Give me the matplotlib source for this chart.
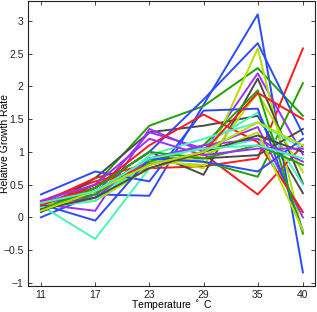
import matplotlib
matplotlib.use("Agg")
import matplotlib.pyplot as plt

plt.rcParams['font.family'] = ['Liberation Sans', 'DejaVu Sans']

temps = [11, 17, 23, 29, 35, 40]
y_ticks = [-1, -0.5, 0, 0.5, 1, 1.5, 2, 2.5, 3]
y_tick_labels = ['\u22121', '\u22120.5', '0', '0.5', '1', '1.5', '2', '2.5', '3']

blue = '#2a4bff'
red = '#ff1a1a'
green = '#22a000'
gray = '#4a4a4a'
purple = '#9b30ff'
ygreen = '#b4e000'
aqua = '#48f5b8'

# relative growth rate per strain
blue_1 = [0.00, 0.35, 0.33, 1.72, 3.10, -0.84]
blue_2 = [0.22, 0.45, 1.00, 1.80, 2.66, 1.27]
blue_3 = [0.35, 0.70, 0.55, 1.63, 1.66, -0.20]
blue_4 = [0.20, -0.05, 0.90, 0.85, 0.70, 1.20]
red_1 = [0.25, 0.55, 0.75, 0.78, 0.90, 2.58]
red_2 = [0.22, 0.60, 0.82, 0.97, 0.35, 1.10]
red_3 = [0.20, 0.45, 1.10, 1.57, 1.15, 0.08]
red_4 = [0.18, 0.50, 0.80, 1.00, 1.90, 1.50]
green_1 = [0.15, 0.50, 1.40, 1.70, 2.28, 1.55]
green_2 = [0.20, 0.40, 0.90, 0.85, 0.62, 2.05]
green_3 = [0.10, 0.35, 0.85, 1.10, 1.94, -0.25]
green_4 = [0.12, 0.45, 1.00, 0.90, 1.10, 0.80]
gray_1 = [0.10, 0.60, 1.30, 1.40, 1.55, 0.37]
gray_2 = [0.08, 0.45, 1.00, 0.65, 2.12, 0.52]
gray_3 = [0.15, 0.40, 0.90, 0.90, 0.95, 1.35]
gray_4 = [0.12, 0.30, 0.75, 1.00, 1.25, 1.00]
purple_1 = [0.20, 0.10, 1.35, 1.00, 2.20, 0.96]
purple_2 = [0.22, 0.35, 1.30, 1.05, 1.38, 0.00]
purple_3 = [0.18, 0.30, 0.90, 1.10, 1.20, 0.85]
purple_4 = [0.25, 0.50, 1.20, 0.95, 1.05, 1.05]
ygreen_1 = [0.12, 0.35, 0.90, 0.75, 2.58, -0.24]
ygreen_2 = [0.15, 0.30, 0.85, 0.80, 1.90, 0.69]
ygreen_3 = [0.20, 0.25, 0.75, 0.95, 1.30, -0.20]
ygreen_4 = [0.10, 0.40, 0.80, 1.00, 1.45, 1.10]
aqua_1 = [0.18, -0.33, 0.75, 1.00, 1.20, 0.08]
aqua_2 = [0.20, 0.30, 0.80, 1.10, 1.60, 0.50]
aqua_3 = [0.15, 0.25, 0.95, 1.20, 1.45, 1.05]
aqua_4 = [0.22, 0.40, 0.90, 1.05, 1.10, 0.90]

series = [
    (blue_1, blue), (red_1, red), (green_1, green), (gray_1, gray),
    (purple_1, purple), (ygreen_1, ygreen), (aqua_1, aqua),
    (blue_2, blue), (red_2, red), (green_2, green), (gray_2, gray),
    (purple_2, purple), (ygreen_2, ygreen), (aqua_2, aqua),
    (blue_3, blue), (red_3, red), (green_3, green), (gray_3, gray),
    (purple_3, purple), (ygreen_3, ygreen), (aqua_3, aqua),
    (blue_4, blue), (red_4, red), (green_4, green), (gray_4, gray),
    (purple_4, purple), (ygreen_4, ygreen), (aqua_4, aqua),
]

fig = plt.figure(figsize=(3.17, 3.12), dpi=100)
ax = fig.add_axes([0.088, 0.083, 0.906, 0.915])

for values, color in series:
    ax.plot(temps, values, color=color, lw=1.4)

ax.set_xlim(9.55, 41.35)
ax.set_ylim(-1.05, 3.31)
ax.set_xticks(temps)
ax.set_yticks(y_ticks)
ax.set_yticklabels(y_tick_labels)
ax.tick_params(direction='in', length=3, width=0.6, labelsize=7.5,
               top=True, right=True, colors='#222222', pad=3)
ax.tick_params(axis='x', pad=2.5)
for sp in ax.spines.values():
    sp.set_linewidth(0.8)
    sp.set_color('#222222')

ax.set_xlabel('Temperature $^\\circ$ C', fontsize=7.5)
ax.set_ylabel('Relative Growth Rate', fontsize=7.5)
ax.xaxis.set_label_coords(0.5, -0.042)
ax.yaxis.set_label_coords(-0.064, 0.5)

fig.savefig('out.png', dpi=100)
